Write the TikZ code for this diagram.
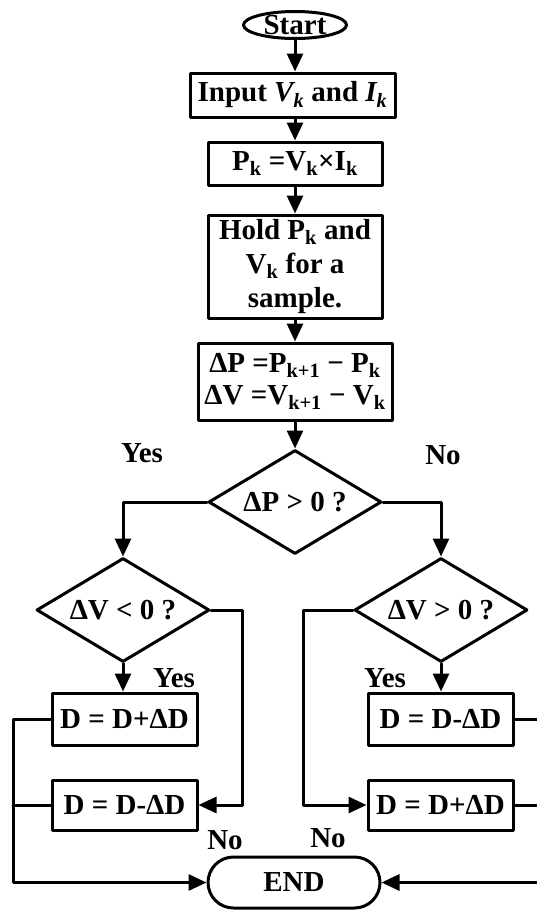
\documentclass[tikz,border=0pt]{standalone}
\usepackage{fontspec}
\setmainfont{Liberation Serif}
\usetikzlibrary{arrows.meta}
\usetikzlibrary{shapes.geometric}
\usetikzlibrary{shapes.misc}

\begin{document}
\begin{tikzpicture}[x=1pt, y=-1pt, line cap=round, line join=round, >={Triangle[length=18pt,width=16pt]},
		every node/.style={font=\fontsize{29}{34}\selectfont\bfseries},
		block/.style={draw, line width=3pt, inner sep=0pt, align=center},
		decision/.style={draw, diamond, line width=3pt, inner sep=0pt, aspect=1.65, minimum width=173pt, minimum height=104pt},
		flow/.style={line width=3pt, ->}]
		\useasboundingbox (0,0) rectangle (537,910);
		% terminals
		\node[draw, ellipse, line width=3pt, inner sep=0pt, text height=19pt, text depth=-2pt, minimum width=103pt, minimum height=27pt] (start) at (295,25) {Start};
		\node[draw, rounded rectangle, line width=3pt, inner sep=0pt, minimum width=172pt, minimum height=51pt] (end) at (294,882.5) {END};
		% main column
		\node[block, minimum width=205pt, minimum height=44pt] (input) at (292.5,95) {Input \textit{V\textsubscript{k}} and \textit{I\textsubscript{k}}};
		\node[block, minimum width=174pt, minimum height=43pt] (power) at (295,163.5) {P\textsubscript{k} =V\textsubscript{k}×I\textsubscript{k}};
		\node[block, minimum width=174pt, minimum height=103pt, font=\fontsize{29}{34}\selectfont\bfseries] (hold) at (295,266.5) {Hold P\textsubscript{k} and\\V\textsubscript{k} for a\\sample.};
		\node[block, minimum width=194pt, minimum height=77pt, font=\fontsize{29}{32}\selectfont\bfseries] (delta) at (295,381.5) {ΔP =P\textsubscript{k+1} − P\textsubscript{k}\\ΔV =V\textsubscript{k+1} − V\textsubscript{k}};
		% decisions
		\node[decision] (dp) at (295,502) {ΔP > 0 ?};
		\node[decision] (dvl) at (123,610) {ΔV < 0 ?};
		\node[decision] (dvr) at (441,610) {ΔV > 0 ?};
		% duty updates
		\node[block, minimum width=145pt, minimum height=52pt] (incl) at (124.5,719) {D = D+ΔD};
		\node[block, minimum width=145pt, minimum height=50pt] (decl) at (124.5,805) {D = D-ΔD};
		\node[block, minimum width=145pt, minimum height=52pt] (decr) at (440.5,719) {D = D-ΔD};
		\node[block, minimum width=145pt, minimum height=50pt] (incr) at (440.5,805) {D = D+ΔD};
		% turning points
		\coordinate (cl) at (242,0);
		\coordinate (cr) at (303,0);
		\coordinate (lx) at (13,0);
		\coordinate (rx) at (540,0);
		% arrows
		\draw[flow] (start.south) -- (start.south |- input.north);
		\draw[flow] (power.north |- input.south) -- (power.north);
		\draw[flow] (power) -- (hold);
		\draw[flow] (hold) -- (delta);
		\draw[flow] (delta) -- (dp);
		\draw[flow] (dp.west) -| (dvl.north);
		\draw[flow] (dp.east) -| (dvr.north);
		\draw[flow] (dvl.south) -- (dvl.south |- incl.north);
		\draw[flow] (dvr.south) -- (dvr.south |- decr.north);
		\draw[flow] (dvl.east) -| (cl |- decl.east) -- (decl.east);
		\draw[flow] (dvr.west) -| (cr |- incr.west) -- (incr.west);
		\draw[flow] (incl.west) -| (lx |- end.west) -- (end.west);
		\draw[line width=3pt] (decl.west) -- (decl.west -| lx);
		\draw[flow] (decr.east) -| (rx |- end.east) -- (end.east);
		\draw[line width=3pt] (incr.east) -- (incr.east -| rx);
		% labels
		\node (yes) at (142,453) {Yes};
		\node (no) at (443,455) {No};
		\node (yesl) at (174,678) {Yes};
		\node (nol) at (225,840) {No};
		\node (yesr) at (385,678) {Yes};
		\node (nor) at (328,838) {No};
	\end{tikzpicture}
\end{document}
